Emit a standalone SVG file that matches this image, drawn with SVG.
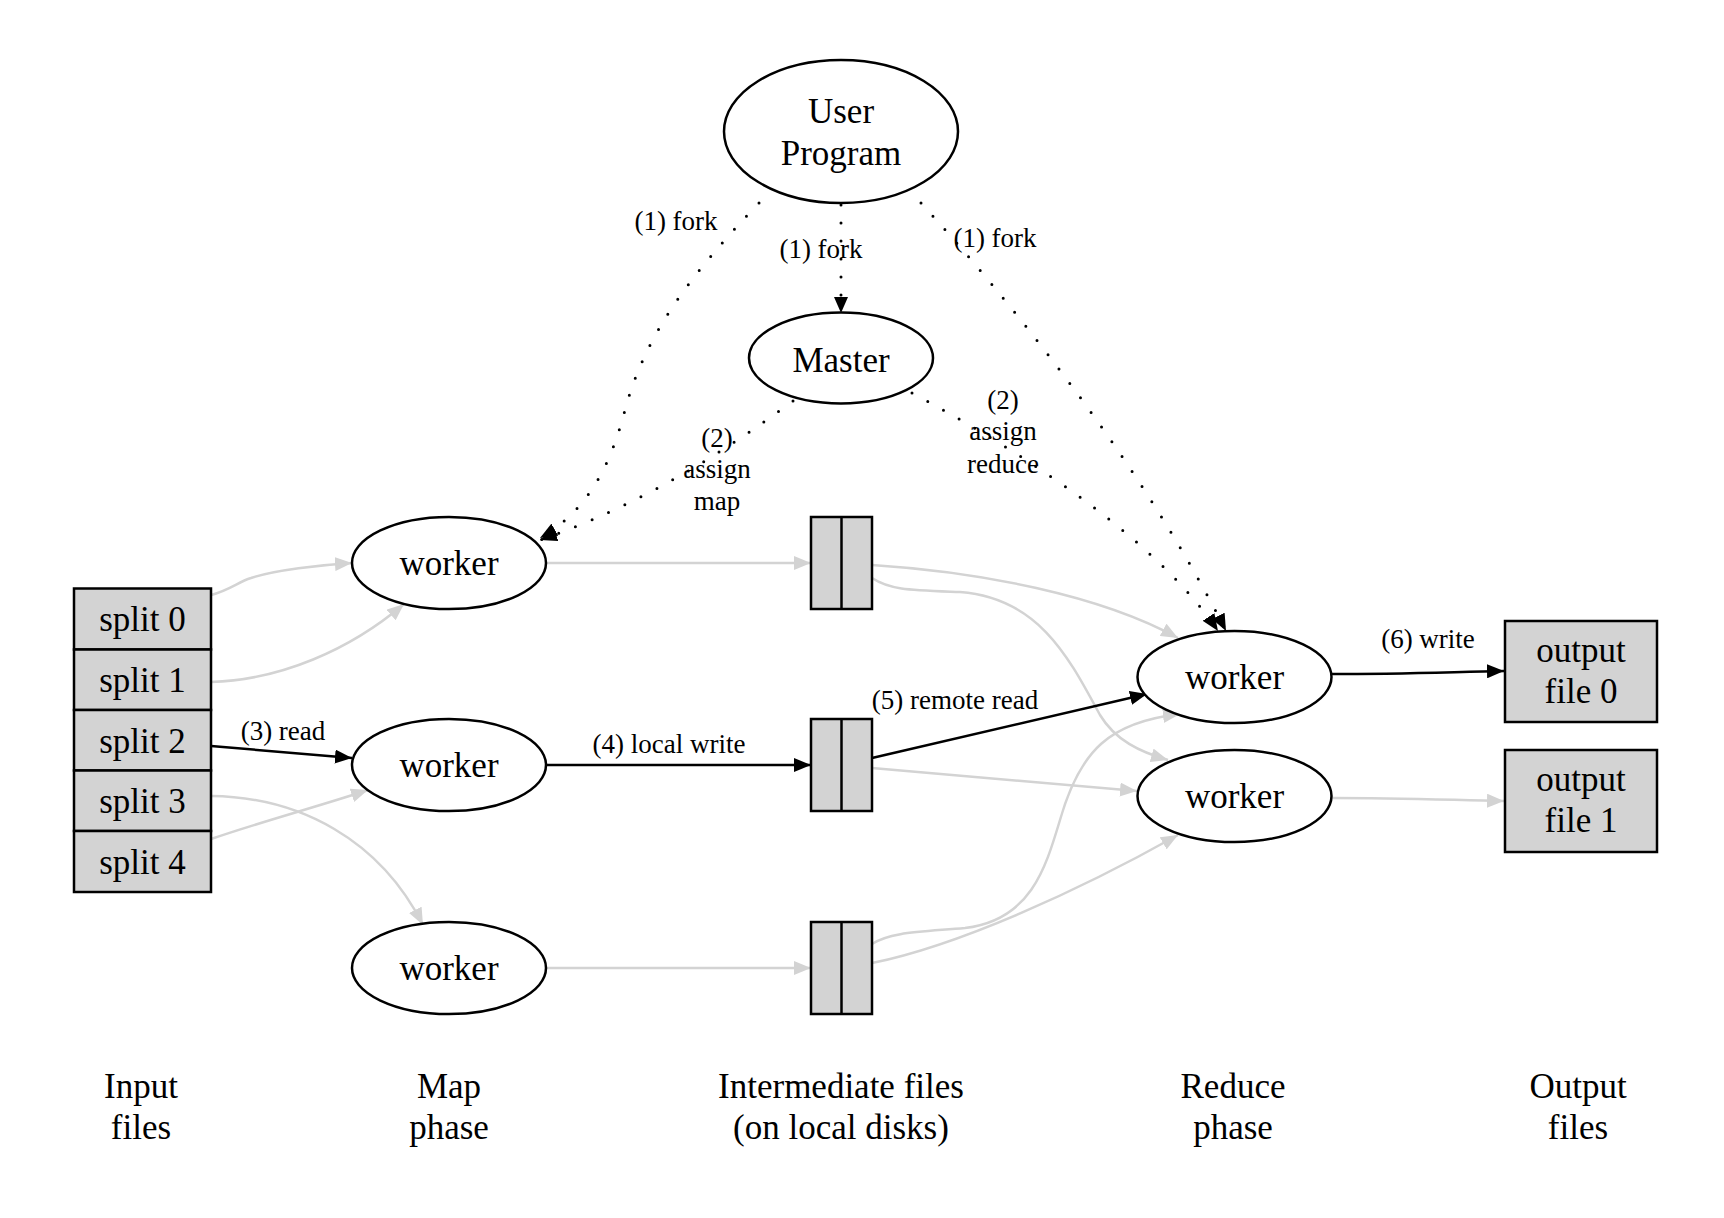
<svg xmlns="http://www.w3.org/2000/svg" width="1724" height="1218" viewBox="0 0 1724 1218">
<style>
.n{fill:#fff;stroke:#000;stroke-width:2.5}
.b{fill:#d3d3d3;stroke:#000;stroke-width:2.5}
text{font-family:"Liberation Serif","Times New Roman",serif;font-size:35px;text-anchor:middle;fill:#000}
text.l{font-size:27px}
.e{fill:none;stroke:#000;stroke-width:2.5}
.g{fill:none;stroke:#d3d3d3;stroke-width:2.5}
.d{fill:none;stroke:#000;stroke-width:3;stroke-dasharray:0 18;stroke-linecap:round}
</style>
<defs>
<marker id="ak" markerUnits="userSpaceOnUse" markerWidth="18" markerHeight="14" refX="17" refY="7" orient="auto"><path d="M0,0 L17,7 L0,14 Z" fill="#000"/></marker>
<marker id="ag" markerUnits="userSpaceOnUse" markerWidth="18" markerHeight="14" refX="17" refY="7" orient="auto"><path d="M0,0 L17,7 L0,14 Z" fill="#d3d3d3"/></marker>
</defs>
<rect width="1724" height="1218" fill="#fff"/>
<g id="connectors">
<path class="d" d="M841,205 L841,298"/>
<path d="M834,297 L841,313 L848,297 Z" fill="#000"/>
<path class="d" d="M759,203 C690,275 645,335 625,410 C612,460 590,510 540,538" marker-end="url(#ak)"/>
<path class="d" d="M793,401 C720,455 640,505 540,540" marker-end="url(#ak)"/>
<path class="d" d="M921,203 C1005,295 1140,460 1226,631" marker-end="url(#ak)"/>
<path class="d" d="M912,393 C1000,440 1150,530 1218,631" marker-end="url(#ak)"/>
<path class="g" d="M211,595 C230,590 238,582 251,578 C275,570 320,565 352,563" marker-end="url(#ag)"/>
<path class="g" d="M211,682 C280,680 350,650 404,604" marker-end="url(#ag)"/>
<path class="e" d="M211,746 L352,758" marker-end="url(#ak)"/>
<path class="g" d="M211,796 C300,797 380,840 423,925" marker-end="url(#ag)"/>
<path class="g" d="M211,839 C260,822 320,806 368,790" marker-end="url(#ag)"/>
<path class="g" d="M546,563 L811,563" marker-end="url(#ag)"/>
<path class="e" d="M546,765 L811,765" marker-end="url(#ak)"/>
<path class="g" d="M546,968 L811,968" marker-end="url(#ag)"/>
<path class="g" d="M872,565 C980,572 1100,595 1178,638" marker-end="url(#ag)"/>
<path class="g" d="M872,578 C890,590 910,590 960,592 C1040,598 1070,660 1100,715 C1115,740 1140,752 1168,760" marker-end="url(#ag)"/>
<path class="e" d="M872,758 L1147,694" marker-end="url(#ak)"/>
<path class="g" d="M872,768 L1137,791" marker-end="url(#ag)"/>
<path class="g" d="M872,944 C890,932 920,932 965,928 C1030,920 1045,870 1060,820 C1080,750 1110,722 1180,714" marker-end="url(#ag)"/>
<path class="g" d="M872,963 C960,945 1080,890 1178,835" marker-end="url(#ag)"/>
<path class="e" d="M1332,674 C1400,674 1450,672 1504,671" marker-end="url(#ak)"/>
<path class="g" d="M1332,798 C1400,798 1450,800 1504,801" marker-end="url(#ag)"/>
<text class="l" x="676" y="230">(1) fork</text>
<text class="l" x="821" y="258">(1) fork</text>
<text class="l" x="995" y="247">(1) fork</text>
<text class="l" x="717" y="447">(2)</text>
<text class="l" x="717" y="478">assign</text>
<text class="l" x="717" y="510">map</text>
<text class="l" x="1003" y="409">(2)</text>
<text class="l" x="1003" y="440">assign</text>
<text class="l" x="1003" y="473">reduce</text>
<text class="l" x="283" y="740">(3) read</text>
<text class="l" x="669" y="753">(4) local write</text>
<text class="l" x="955" y="709">(5) remote read</text>
<text class="l" x="1428" y="648">(6) write</text>
</g>
<g id="user-program"><ellipse class="n" cx="841" cy="131.5" rx="117" ry="71.5"/><text x="841" y="123">User</text><text x="841" y="165">Program</text></g>
<g id="master"><ellipse class="n" cx="841" cy="358" rx="92" ry="45.5"/><text x="841" y="372">Master</text></g>
<g id="splits">
<rect class="b" x="74" y="588.5" width="137" height="61"/><text x="142.5" y="631">split 0</text>
<rect class="b" x="74" y="649.5" width="137" height="60.5"/><text x="142.5" y="692">split 1</text>
<rect class="b" x="74" y="710" width="137" height="60.5"/><text x="142.5" y="752.5">split 2</text>
<rect class="b" x="74" y="770.5" width="137" height="60.5"/><text x="142.5" y="813">split 3</text>
<rect class="b" x="74" y="831" width="137" height="61"/><text x="142.5" y="874">split 4</text>
</g>
<g id="map-worker-1"><ellipse class="n" cx="449" cy="563" rx="97" ry="46"/><text x="449" y="575">worker</text></g>
<g id="map-worker-2"><ellipse class="n" cx="449" cy="765" rx="97" ry="46"/><text x="449" y="777">worker</text></g>
<g id="map-worker-3"><ellipse class="n" cx="449" cy="968" rx="97" ry="46"/><text x="449" y="980">worker</text></g>
<g id="inter-1"><rect class="b" x="811" y="517" width="61" height="92"/><line x1="841.5" y1="517" x2="841.5" y2="609" stroke="#000" stroke-width="2.5"/></g>
<g id="inter-2"><rect class="b" x="811" y="719" width="61" height="92"/><line x1="841.5" y1="719" x2="841.5" y2="811" stroke="#000" stroke-width="2.5"/></g>
<g id="inter-3"><rect class="b" x="811" y="922" width="61" height="92"/><line x1="841.5" y1="922" x2="841.5" y2="1014" stroke="#000" stroke-width="2.5"/></g>
<g id="reduce-worker-1"><ellipse class="n" cx="1234.5" cy="677" rx="97" ry="46"/><text x="1234.5" y="689">worker</text></g>
<g id="reduce-worker-2"><ellipse class="n" cx="1234.5" cy="796" rx="97" ry="46"/><text x="1234.5" y="808">worker</text></g>
<g id="output-0"><rect class="b" x="1505" y="621" width="152" height="101"/><text x="1581" y="662">output</text><text x="1581" y="703">file 0</text></g>
<g id="output-1"><rect class="b" x="1505" y="750" width="152" height="102"/><text x="1581" y="791">output</text><text x="1581" y="832">file 1</text></g>
<g id="captions">
<text x="141" y="1098">Input</text><text x="141" y="1139">files</text>
<text x="449" y="1098">Map</text><text x="449" y="1139">phase</text>
<text x="841" y="1098">Intermediate files</text><text x="841" y="1139">(on local disks)</text>
<text x="1233" y="1098">Reduce</text><text x="1233" y="1139">phase</text>
<text x="1578" y="1098">Output</text><text x="1578" y="1139">files</text>
</g>
</svg>
